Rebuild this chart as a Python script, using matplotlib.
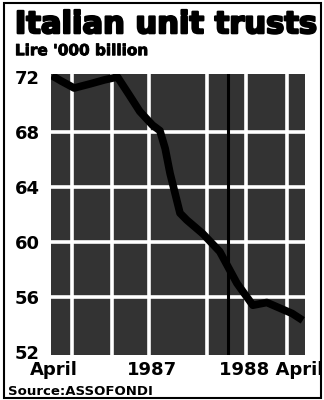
import matplotlib
matplotlib.use("Agg")
import matplotlib.pyplot as plt
import matplotlib.patheffects as pe
from matplotlib.patches import Rectangle

# months since April 1987 -> fund assets, Lire '000 billion
months = [0.05, 0.5, 1.1, 1.85, 2.55, 3.15, 3.7, 4.2, 4.8, 5.15, 5.4, 5.63,
          6.1, 6.42, 7.18, 7.98, 8.79, 9.54, 10.2, 10.8, 11.4, 11.9]
assets = [72.1, 71.7, 71.2, 71.5, 71.8, 72.0, 70.7, 69.5, 68.5, 68.1, 66.8, 65.0,
          62.1, 61.6, 60.6, 59.3, 57.0, 55.4, 55.6, 55.2, 54.8, 54.3]

y_ticks = [52, 56, 60, 64, 68, 72]
grid_y = [56, 60, 64, 68]
grid_x = [0.99, 2.88, 4.63, 7.37, 9.21, 11.15]
year_mark = 8.36
x_tick_pos = [0.15, 4.8, 10.4]
x_tick_labels = ["April", "1987", "1988 April"]

fig = plt.figure(figsize=(3.24, 4.0), dpi=100)
ax = fig.add_axes([0.157, 0.1125, 0.784, 0.7025])
ax.set_facecolor("#333333")

for gy in grid_y:
    ax.axhline(gy, color="white", lw=2.6, zorder=1)
for gx in grid_x:
    ax.axvline(gx, color="white", lw=2.6, zorder=1)
ax.axvline(year_mark, color="black", lw=2.2, zorder=2)

ax.plot(months, assets, color="black", lw=5.5, solid_capstyle="butt",
        solid_joinstyle="round", zorder=3)

ax.set_xlim(0, 12)
ax.set_ylim(51.78, 72.22)
ax.set_yticks(y_ticks)
ax.set_yticklabels([str(v) for v in y_ticks], fontsize=13, fontweight="bold")
ax.set_xticks(x_tick_pos)
ax.set_xticklabels(x_tick_labels, fontsize=13, fontweight="bold")
ax.tick_params(length=0, pad=8)
ax.tick_params(axis="x", pad=4)
for s in ax.spines.values():
    s.set_visible(False)

heavy = [pe.withStroke(linewidth=1.6, foreground="black")]
fig.text(0.046, 0.917, "Italian unit trusts", fontsize=22, fontweight="bold",
         ha="left", va="baseline", path_effects=heavy)
fig.text(0.046, 0.862, "Lire '000 billion", fontsize=11, fontweight="bold",
         ha="left", va="baseline",
         path_effects=[pe.withStroke(linewidth=0.6, foreground="black")])
fig.text(0.025, 0.012, "Source:ASSOFONDI", fontsize=9.5, fontweight="bold",
         ha="left", va="baseline")

fig.patches.append(Rectangle((0.012, 0.004), 0.978, 0.988, transform=fig.transFigure,
                             fill=False, edgecolor="black", lw=1.5))

fig.savefig("out.png", dpi=100)
